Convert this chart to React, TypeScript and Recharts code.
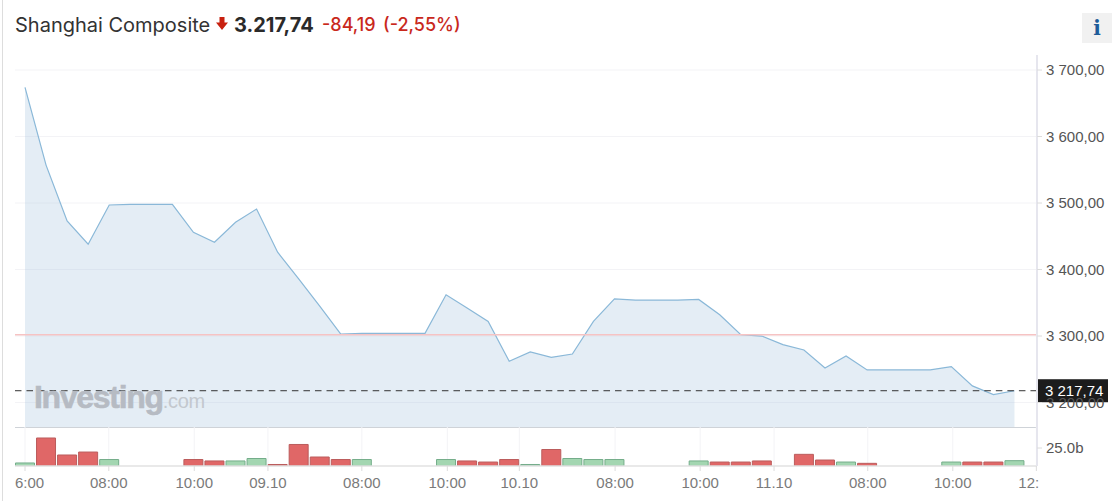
import React from "react";
import { ComposedChart, Area, Bar, Cell, XAxis, YAxis, CartesianGrid, ReferenceLine } from "recharts";

const closes = [3674, 3557, 3473, 3438, 3497, 3498, 3498, 3498, 3456, 3441, 3471, 3491, 3426, 3386, 3345, 3303, 3304, 3304, 3304, 3304, 3362, 3342, 3322, 3262, 3276, 3268, 3273, 3322, 3356, 3354, 3354, 3354, 3355, 3332, 3302, 3300, 3287, 3279, 3252, 3270, 3249, 3249, 3249, 3249, 3254, 3225, 3212, 3217.74];
const volumes = [4.2, 38.9, 15.3, 19.4, 9, null, null, null, 9, 7, 7, 10.4, 2.1, 29.9, 12.5, 9, 9, null, null, null, 9, 7, 5.5, 9, 2.1, 22.9, 10.4, 9, 9, null, null, null, 7, 5.5, 5.5, 7, null, 16.2, 8.3, 5.5, 3.7, null, null, null, 5.5, 5.5, 5.5, 7.4];
const volumeUp = [1, 0, 0, 0, 1, 0, 0, 0, 0, 0, 1, 1, 0, 0, 0, 0, 1, 0, 0, 0, 1, 0, 0, 0, 1, 0, 1, 1, 1, 0, 0, 0, 1, 0, 0, 0, 0, 0, 0, 1, 0, 0, 0, 0, 1, 0, 0, 1];
const priceTicks = [3200, 3300, 3400, 3500, 3600, 3700];
const volumeTicks = [25];
const timeTickPositions = [0, 3.98, 8.04, 11.54, 16, 20.06, 23.48, 28.03, 32.07, 35.58, 40.03, 44.07, 48.04];
const timeTickLabels = ["6:00", "08:00", "10:00", "09.10", "08:00", "10:00", "10.10", "08:00", "10:00", "11.10", "08:00", "10:00", "12:"];
const previousClose = 3301.93;
const lastPrice = 3217.74;

const rows = closes.map((close, i) => ({ i, close, volume: volumes[i], up: volumeUp[i] }));
const xDomain = [-0.475, 48.07];
const AXIS_FONT = "'Liberation Sans', Arial, sans-serif";
const TITLE_FONT = "Inter, 'Noto Sans', sans-serif";
const GRID = "#f3f3f6";

const fmtPrice = (v: number) => {
  const [a, b] = v.toFixed(2).split(".");
  return `${a[0]} ${a.slice(1)},${b}`;
};

function TimeTick(props: any) {
  const { x, y, index } = props;
  const label = timeTickLabels[index];
  const first = index === 0;
  const last = index === timeTickLabels.length - 1;
  return (
    <g>
      <line x1={x} x2={x} y1={y - 8} y2={y - 3} stroke="#dcdcdc" />
      <text
        x={first ? 15 : last ? x - 18 : x}
        y={y + 14}
        textAnchor={first || last ? "start" : "middle"}
        fontFamily={AXIS_FONT}
        fontSize={15}
        fill="#7a7a7a"
      >
        {label}
      </text>
    </g>
  );
}

function PriceBadge(props: any) {
  const vb = props.viewBox;
  const right = vb.x + vb.width;
  return (
    <g>
      <rect x={right + 1} y={vb.y - 11.5} width={70} height={23} fill="#1c1c1c" />
      <text x={right + 8} y={vb.y + 5} fontFamily={AXIS_FONT} fontSize={15} fill="#ffffff">
        {fmtPrice(lastPrice)}
      </text>
    </g>
  );
}

export default function App() {
  return (
    <div style={{ position: "absolute", left: 0, top: 0, width: 1119, height: 501, background: "#fff", overflow: "hidden" }}>
      <div style={{ position: "absolute", left: 2, top: 0, width: 1, height: 501, background: "#dddddd" }} />
      <div style={{ position: "absolute", left: 15, top: 12, fontFamily: TITLE_FONT, fontSize: 20, lineHeight: "26px", color: "#333", whiteSpace: "nowrap" }}>
        Shanghai Composite
      </div>
      <svg style={{ position: "absolute", left: 216, top: 17 }} width={12} height={13}>
        <polygon points="3.5,0 8.5,0 8.5,5.5 12,5.5 6,13 0,5.5 3.5,5.5" fill="#c8200f" />
      </svg>
      <div style={{ position: "absolute", left: 234, top: 12, fontFamily: TITLE_FONT, fontSize: 20, lineHeight: "26px", fontWeight: 700, color: "#2a2a2a", whiteSpace: "nowrap" }}>
        3.217,74
      </div>
      <div style={{ position: "absolute", left: 322, top: 12, fontFamily: TITLE_FONT, fontSize: 18, lineHeight: "26px", fontWeight: 500, color: "#c9281c", whiteSpace: "nowrap" }}>
        -84,19
      </div>
      <div style={{ position: "absolute", left: 383, top: 12, fontFamily: TITLE_FONT, fontSize: 18, lineHeight: "26px", fontWeight: 500, color: "#c9281c", whiteSpace: "nowrap" }}>
        (-2,55%)
      </div>
      <div style={{ position: "absolute", left: 1082, top: 13, width: 30, height: 30, background: "#f1f1f1", textAlign: "center", fontFamily: "'DejaVu Serif', serif", fontWeight: 700, fontSize: 20, lineHeight: "30px", color: "#1d5c99" }}>
        i
      </div>

      <div style={{ position: "absolute", left: 0, top: 55 }}>
        <ComposedChart width={1119} height={372} data={rows} margin={{ top: 0, right: 0, bottom: 0, left: 15 }}>
          <CartesianGrid stroke={GRID} horizontal vertical syncWithTicks />
          <XAxis dataKey="i" type="number" domain={xDomain} allowDataOverflow ticks={timeTickPositions} interval={0} height={0} tick={false} axisLine={false} tickLine={false} />
          <YAxis
            orientation="right"
            width={82}
            domain={[3163.2, 3722.6]}
            allowDataOverflow
            ticks={priceTicks}
            interval={0}
            tickFormatter={fmtPrice}
            axisLine={{ stroke: "#e6e6ee", strokeWidth: 2 }}
            tickLine={{ stroke: "#dcdcdc" }}
            tickSize={5}
            tickMargin={4}
            tick={{ fontFamily: AXIS_FONT, fontSize: 15, fill: "#555" }}
          />
          <Area dataKey="close" type="linear" stroke="#8ab8d8" strokeWidth={1.2} fill="#a5c3de" fillOpacity={0.3} isAnimationActive={false} dot={false} activeDot={false} />
          <ReferenceLine y={previousClose} stroke="#f6c3c3" strokeWidth={1.5} />
          <ReferenceLine y={lastPrice} stroke="#333" strokeDasharray="6.54 5" label={PriceBadge} />
        </ComposedChart>
      </div>
      <div style={{ position: "absolute", left: 15, top: 426.5, width: 1022, height: 1, background: "#cfd3d8" }} />
      <div style={{ position: "absolute", left: 34, top: 377, fontFamily: AXIS_FONT, fontSize: 32, lineHeight: "40px", fontWeight: 700, letterSpacing: -1.3, color: "#b6bbc3", WebkitTextStroke: "0.6px #b6bbc3", whiteSpace: "nowrap", pointerEvents: "none" }}>
        Investing
        <span style={{ fontWeight: 400, fontSize: 20, letterSpacing: -0.3, color: "#c3c8ce", WebkitTextStroke: "0" }}>.com</span>
      </div>

      <div style={{ position: "absolute", left: 0, top: 427 }}>
        <ComposedChart width={1119} height={74} data={rows} margin={{ top: 0, right: 0, bottom: 0, left: 15 }}>
          <CartesianGrid stroke={GRID} horizontal={false} vertical syncWithTicks />
          <XAxis
            dataKey="i"
            type="number"
            domain={xDomain}
            allowDataOverflow
            ticks={timeTickPositions}
            interval={0}
            height={35}
            axisLine={{ stroke: "#e2e2e2", strokeWidth: 1.5 }}
            tickLine={false}
            tick={TimeTick}
          />
          <YAxis
            orientation="right"
            width={82}
            domain={[0, 54.17]}
            allowDataOverflow
            ticks={volumeTicks}
            interval={0}
            tickFormatter={(v: number) => `${v.toFixed(1)}b`}
            axisLine={{ stroke: "#e6e6ee", strokeWidth: 2 }}
            tickLine={{ stroke: "#dcdcdc" }}
            tickSize={5}
            tickMargin={4}
            tick={{ fontFamily: AXIS_FONT, fontSize: 15, fill: "#555" }}
          />
          <Bar dataKey="volume" barSize={19} isAnimationActive={false}>
            {rows.map((r) => (
              <Cell key={r.i} fill={r.up ? "#a3d6b1" : "#e06767"} stroke={r.up ? "#74ad8a" : "#bb5c5c"} strokeWidth={1} />
            ))}
          </Bar>
        </ComposedChart>
      </div>
    </div>
  );
}
